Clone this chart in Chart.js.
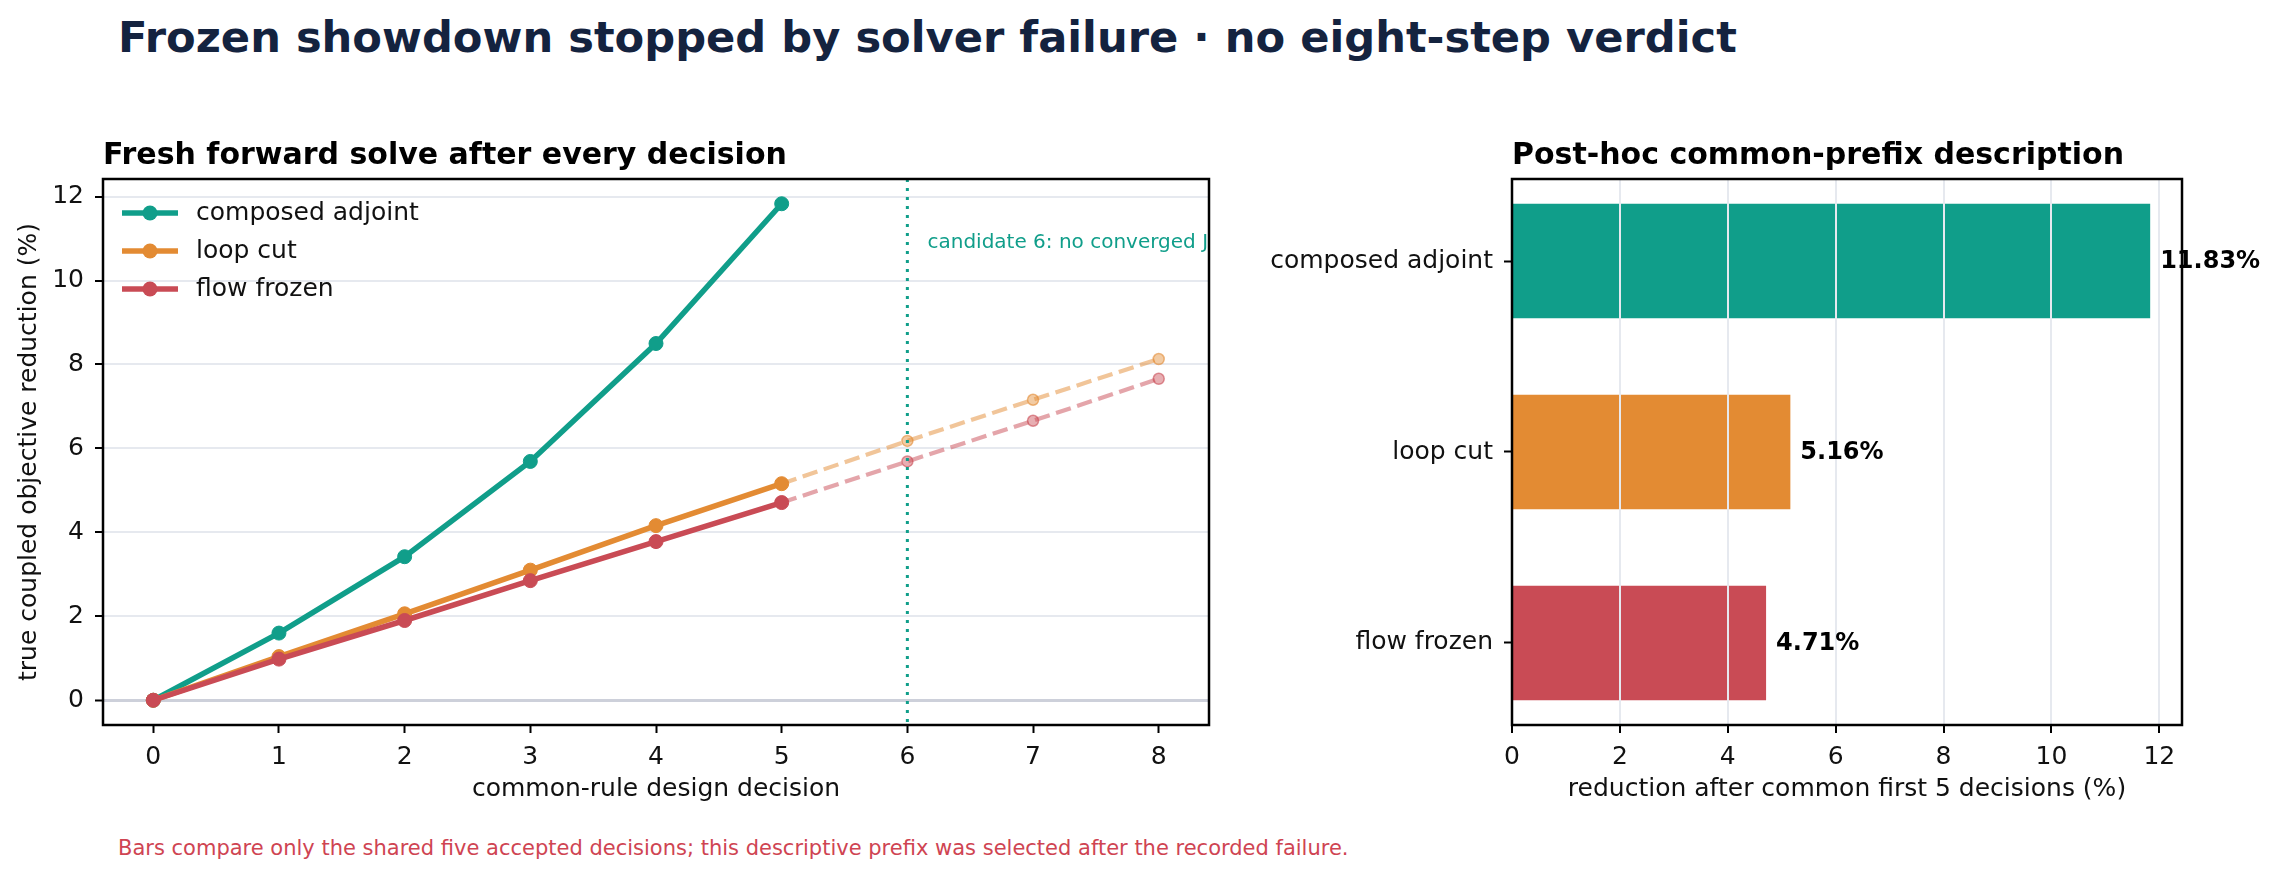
<!DOCTYPE html>
<html>
<head>
<meta charset="utf-8">
<script src="https://cdn.jsdelivr.net/npm/chart.js@4.4.1/dist/chart.umd.min.js"></script>
<style>
    body { margin: 0; background: #fff; width: 2279px; height: 879px; position: relative; overflow: hidden; font-family: "DejaVu Sans", sans-serif; }
    #suptitle { position: absolute; left: 118px; top: 16px; font-size: 43.2px; line-height: 43px; font-weight: bold; color: #14233f; white-space: nowrap; }
    #note { position: absolute; left: 118px; top: 838px; font-size: 21px; line-height: 21px; color: #cf4452; white-space: nowrap; }
    #lineBox { position: absolute; left: 0; top: 120px; width: 1240px; height: 700px; }
    #barBox { position: absolute; left: 1240px; top: 120px; width: 1039px; height: 700px; }
</style>
</head>
<body>
<div id="suptitle">Frozen showdown stopped by solver failure · no eight-step verdict</div>
<div id="lineBox"><canvas id="lineChart" width="1240" height="700"></canvas></div>
<div id="barBox"><canvas id="barChart" width="1039" height="700"></canvas></div>
<div id="note">Bars compare only the shared five accepted decisions; this descriptive prefix was selected after the recorded failure.</div>

<script>
// data
const decisions = [0, 1, 2, 3, 4, 5];
const tailDecisions = [5, 6, 7, 8];
const composedAdjoint = [0, 1.6, 3.42, 5.69, 8.5, 11.83];
const loopCut = [0, 1.04, 2.06, 3.1, 4.16, 5.16];
const flowFrozen = [0, 0.98, 1.9, 2.85, 3.78, 4.71];
const loopCutTail = [5.16, 6.18, 7.16, 8.13];
const flowFrozenTail = [4.71, 5.69, 6.66, 7.66];
const failedCandidate = 6;

const lineXTicks = [0, 1, 2, 3, 4, 5, 6, 7, 8];
const lineYTicks = [0, 2, 4, 6, 8, 10, 12];

const barCategories = ["composed adjoint", "loop cut", "flow frozen"];
const barValues = [11.83, 5.16, 4.71];
const barXTicks = [0, 2, 4, 6, 8, 10, 12];

const TEAL = "#109e8a", ORANGE = "#e38b33", RED = "#c94b55";
const GRID = "#e6e9ef";

Chart.defaults.font.family = "'DejaVu Sans', sans-serif";
Chart.defaults.font.size = 25;
Chart.defaults.color = "#111";

function pts(xs, ys) {
    return xs.map((x, i) => ({ x: x, y: ys[i] }));
}

function fade(hex, a) {
    const n = parseInt(hex.slice(1), 16);
    return `rgba(${n >> 16}, ${(n >> 8) & 255}, ${n & 255}, ${a})`;
}

// box around the plot area
const frame = {
    id: "frame",
    afterDraw(chart) {
        const { ctx, chartArea: a } = chart;
        ctx.save();
        ctx.strokeStyle = "#000";
        ctx.lineWidth = 2.5;
        ctx.strokeRect(a.left, a.top, a.right - a.left, a.bottom - a.top);
        ctx.restore();
    }
};

// left-aligned bold panel title
const panelTitle = {
    id: "panelTitle",
    afterDraw(chart, args, opts) {
        const { ctx, chartArea: a } = chart;
        ctx.save();
        ctx.font = "bold 30px 'DejaVu Sans'";
        ctx.fillStyle = "#000";
        ctx.textBaseline = "alphabetic";
        ctx.fillText(opts.text, a.left, a.top - 15);
        ctx.restore();
    }
};

// legend drawn inside the axes, upper left
const lineLegend = {
    id: "lineLegend",
    afterDraw(chart) {
        const { ctx, chartArea: a } = chart;
        const items = chart.data.datasets.filter(d => d.inLegend);
        ctx.save();
        items.forEach((d, i) => {
            const y = a.top + 34 + i * 38;
            ctx.strokeStyle = d.borderColor;
            ctx.lineWidth = 5.5;
            ctx.beginPath();
            ctx.moveTo(a.left + 19, y);
            ctx.lineTo(a.left + 75, y);
            ctx.stroke();
            ctx.fillStyle = d.borderColor;
            ctx.beginPath();
            ctx.arc(a.left + 47, y, 7.5, 0, Math.PI * 2);
            ctx.fill();
            ctx.fillStyle = "#111";
            ctx.font = "25px 'DejaVu Sans'";
            ctx.textBaseline = "middle";
            ctx.fillText(d.label, a.left + 93, y);
        });
        ctx.restore();
    }
};

// dotted marker at the failed candidate + note
const failureMark = {
    id: "failureMark",
    afterDatasetsDraw(chart) {
        const { ctx, chartArea: a, scales } = chart;
        const x = scales.x.getPixelForValue(failedCandidate);
        ctx.save();
        ctx.beginPath();
        ctx.rect(a.left, a.top, a.right - a.left, a.bottom - a.top);
        ctx.clip();
        ctx.strokeStyle = TEAL;
        ctx.lineWidth = 3;
        ctx.setLineDash([3, 6]);
        ctx.beginPath();
        ctx.moveTo(x, a.top);
        ctx.lineTo(x, a.bottom);
        ctx.stroke();
        ctx.setLineDash([]);
        ctx.fillStyle = TEAL;
        ctx.font = "20px 'DejaVu Sans'";
        ctx.textBaseline = "middle";
        ctx.fillText("candidate 6: no converged J", scales.x.getPixelForValue(6.16), scales.y.getPixelForValue(10.9));
        ctx.restore();
    }
};

// value labels at the bar ends
const barLabels = {
    id: "barLabels",
    afterDraw(chart) {
        const { ctx } = chart;
        const meta = chart.getDatasetMeta(0);
        ctx.save();
        ctx.font = "bold 24px 'DejaVu Sans'";
        ctx.fillStyle = "#000";
        ctx.textBaseline = "middle";
        meta.data.forEach((bar, i) => {
            ctx.fillText(barValues[i].toFixed(2) + "%", bar.x + 10, bar.y + 1);
        });
        ctx.restore();
    }
};

function solid(label, xs, ys, color, order) {
    return {
        label: label, data: pts(xs, ys), inLegend: true, order: order,
        borderColor: color, backgroundColor: color, borderWidth: 5.5,
        pointRadius: 7, pointBackgroundColor: color, pointBorderColor: color, pointBorderWidth: 1,
        tension: 0
    };
}

function tail(xs, ys, color, order) {
    return {
        label: "", data: pts(xs, ys), inLegend: false, order: order,
        borderColor: fade(color, 0.5), borderWidth: 4.2, borderDash: [15.5, 6.7],
        pointRadius: 5.5, pointBackgroundColor: fade(color, 0.45), pointBorderColor: fade(color, 0.6), pointBorderWidth: 1.5,
        tension: 0
    };
}

new Chart(document.getElementById("lineChart"), {
    type: "line",
    data: {
        datasets: [
            solid("composed adjoint", decisions, composedAdjoint, TEAL, 3),
            solid("loop cut", decisions, loopCut, ORANGE, 2),
            solid("flow frozen", decisions, flowFrozen, RED, 1),
            tail(tailDecisions, loopCutTail, ORANGE, 5),
            tail(tailDecisions, flowFrozenTail, RED, 4)
        ]
    },
    options: {
        responsive: false,
        devicePixelRatio: 1,
        animation: false,
        events: [],
        layout: { padding: { left: 0, top: 59, right: 31, bottom: 0 } },
        plugins: {
            legend: { display: false },
            tooltip: { enabled: false },
            panelTitle: { text: "Fresh forward solve after every decision" }
        },
        scales: {
            x: {
                type: "linear", min: -0.4, max: 8.4,
                afterBuildTicks: s => { s.ticks = lineXTicks.map(v => ({ value: v })); },
                afterFit: s => { s.height = 95; },
                ticks: { padding: 9, maxRotation: 0, autoSkip: false },
                grid: { drawOnChartArea: false, tickColor: "#000", tickLength: 8, tickWidth: 2 },
                border: { display: false },
                title: { display: true, text: "common-rule design decision", padding: { top: 0, bottom: 16 } }
            },
            y: {
                type: "linear", min: -0.59, max: 12.42,
                afterBuildTicks: s => { s.ticks = lineYTicks.map(v => ({ value: v })); },
                afterFit: s => { s.width = 103; },
                ticks: { padding: 11 },
                grid: {
                    color: c => (c.tick && c.tick.value === 0 ? "#cdd0da" : GRID),
                    lineWidth: c => (c.tick && c.tick.value === 0 ? 3 : 2),
                    tickColor: "#000", tickLength: 8, tickWidth: 2
                },
                border: { display: false },
                title: { display: true, text: "true coupled objective reduction (%)", padding: { top: 14, bottom: 0 } }
            }
        }
    },
    plugins: [failureMark, frame, panelTitle, lineLegend]
});

new Chart(document.getElementById("barChart"), {
    type: "bar",
    data: {
        datasets: [{
            data: barValues.map((v, i) => ({ x: v, y: i })),
            backgroundColor: [TEAL, ORANGE, RED],
            borderWidth: 0,
            barPercentage: 0.6,
            categoryPercentage: 1
        }]
    },
    options: {
        indexAxis: "y",
        responsive: false,
        devicePixelRatio: 1,
        animation: false,
        events: [],
        layout: { padding: { left: 0, top: 59, right: 97, bottom: 0 } },
        plugins: {
            legend: { display: false },
            tooltip: { enabled: false },
            panelTitle: { text: "Post-hoc common-prefix description" }
        },
        scales: {
            x: {
                type: "linear", min: 0, max: 12.42,
                afterBuildTicks: s => { s.ticks = barXTicks.map(v => ({ value: v })); },
                afterFit: s => { s.height = 95; },
                ticks: { padding: 9, maxRotation: 0, autoSkip: false },
                grid: { color: GRID, lineWidth: 2, z: 1, tickColor: "#000", tickLength: 8, tickWidth: 2 },
                border: { display: false },
                title: { display: true, text: "reduction after common first 5 decisions (%)", padding: { top: 0, bottom: 16 } }
            },
            y: {
                type: "linear", min: -0.43, max: 2.43, reverse: true, offset: false,
                afterBuildTicks: s => { s.ticks = barCategories.map((c, i) => ({ value: i })); },
                afterFit: s => { s.width = 272; },
                ticks: { padding: 11, callback: v => barCategories[v] },
                grid: { offset: false, drawOnChartArea: false, tickColor: "#000", tickLength: 8, tickWidth: 2 },
                border: { display: false }
            }
        }
    },
    plugins: [barLabels, frame, panelTitle]
});
</script>
</body>
</html>
